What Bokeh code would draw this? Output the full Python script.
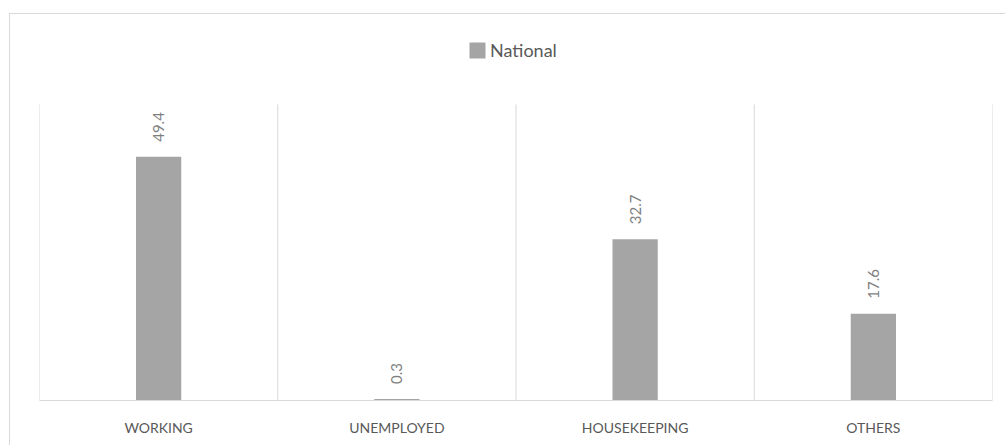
import math
from bokeh.plotting import figure
from bokeh.models import ColumnDataSource, FixedTicker, Legend, LegendItem
from bokeh.core.properties import value
from bokeh.embed import file_html
from bokeh.resources import INLINE

categories = ["WORKING", "UNEMPLOYED", "HOUSEKEEPING", "OTHERS"]
values = [49.4, 0.3, 32.7, 17.6]
labels = ["49.4", "0.3", "32.7", "17.6"]
series_name = "National"
y_max = 60

xs = [i + 0.5 for i in range(len(categories))]
bounds = list(range(len(categories) + 1))
src = ColumnDataSource(dict(x=xs, top=values, label=labels))

FONT = "Lato"
BAR = "#A5A5A5"
GRID = "#D9D9D9"
TXT = "#595959"

# frame: top of canvas (y=14) to baseline (y=400); gridlines stop at y_max (y=104)
y_end = y_max * (400 - 14) / (400 - 104)

p = figure(width=996, height=432, x_range=(0, len(categories)), y_range=(0, y_end),
           output_backend="svg", toolbar_location=None,
           min_border_left=29, min_border_right=14, min_border_top=0, min_border_bottom=46)
p.margin = (13, 0, 0, 9)
p.styles = {"border-top": "1px solid #D9D9D9", "border-left": "1px solid #D9D9D9"}
p.outline_line_color = None
p.background_fill_color = "white"
p.border_fill_color = "white"
p.xgrid.visible = False
p.ygrid.visible = False

p.segment(x0=bounds, x1=bounds, y0=[0] * len(bounds), y1=[y_max] * len(bounds),
          line_color=GRID, line_width=1)

r = p.vbar(x="x", top="top", width=0.19, bottom=0, source=src,
           fill_color=BAR, line_color=None)

p.text(x="x", y="top", text="label", source=src, angle=math.pi / 2,
       text_align="left", text_baseline="middle", y_offset=-15,
       text_font=value(FONT), text_font_size="15px", text_color="#7F7F7F")

p.yaxis.visible = False

ax = p.xaxis[0]
ax.ticker = FixedTicker(ticks=xs)
ax.major_label_overrides = {x: c for x, c in zip(xs, categories)}
ax.axis_line_color = GRID
ax.major_tick_line_color = None
ax.minor_tick_line_color = None
ax.major_label_text_font = FONT
ax.major_label_text_font_size = "14px"
ax.major_label_text_color = TXT
ax.major_label_standoff = 12

legend = Legend(items=[LegendItem(label=series_name, renderers=[r])],
                location=(428, 339), orientation="horizontal",
                glyph_width=20, glyph_height=20, label_standoff=3,
                padding=0, margin=0, spacing=0,
                label_text_font=FONT, label_text_font_size="18px",
                label_text_color=TXT, border_line_color=None,
                background_fill_alpha=0)
p.add_layout(legend, "center")

open("out.html", "w").write(file_html(p, INLINE))
